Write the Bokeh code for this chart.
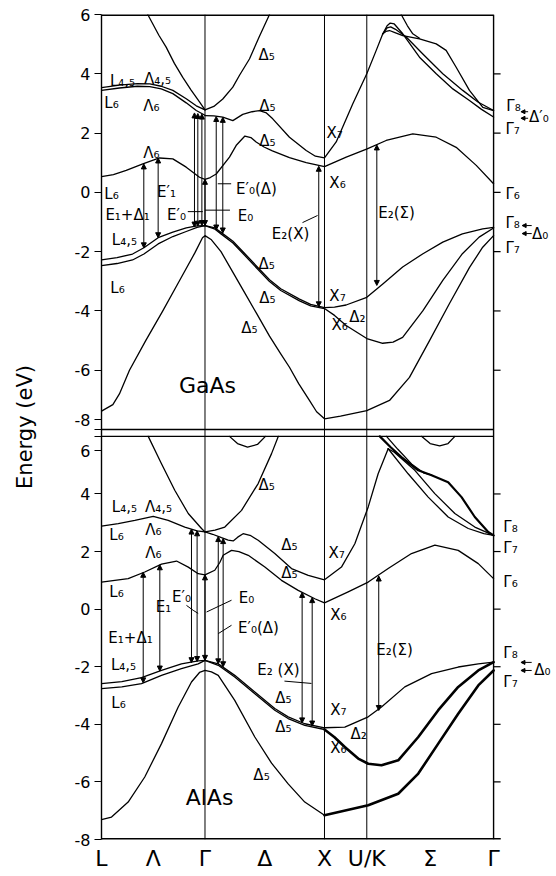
from bokeh.plotting import figure
from bokeh.models import (Range1d, FixedTicker, Span, Arrow, NormalHead, ColumnDataSource)
from bokeh.embed import file_html
from bokeh.resources import INLINE
from bokeh.core.properties import value

FONT = "DejaVu Sans"

# ---------------- k-path ----------------
K_G, K_X, K_UK, K_END = 0.866, 1.866, 2.220, 3.281
XTICKS = [0.0, 0.433, 0.866, 1.366, 1.866, 2.22, 2.751, 3.281]
XLABELS = ["L", "Λ", "Γ", "Δ", "X", "U/K", "Σ", "Γ"]
YTICKS = [-8, -6, -4, -2, 0, 2, 4, 6]

# ---------------- GaAs bands (k, E in eV) ----------------
GAAS_VB_LOW = [(0.0, -7.38), (0.095, -7.16), (0.15, -6.8), (0.234, -6.0), (0.37, -5.0),
               (0.513, -4.0), (0.65, -3.0), (0.78, -2.05), (0.845, -1.53), (0.866, -1.46),
               (0.92, -1.6), (1.0, -2.0), (1.1, -2.7), (1.2, -3.4), (1.3, -4.1), (1.406, -4.85),
               (1.5, -5.45), (1.573, -5.9), (1.65, -6.45), (1.74, -7.02), (1.8, -7.4),
               (1.866, -7.64), (2.0, -7.55), (2.22, -7.36), (2.41, -7.02), (2.577, -6.24),
               (2.745, -5.0), (2.912, -3.75), (3.08, -2.53), (3.19, -1.85), (3.281, -1.46)]
GAAS_VB_HH = [(0.0, -2.28), (0.13, -2.2), (0.26, -2.08), (0.355, -1.87), (0.474, -1.53),
              (0.597, -1.34), (0.709, -1.2), (0.8, -1.13), (0.866, -1.12), (0.95, -1.2),
              (1.0, -1.35), (1.1, -1.65), (1.2, -2.07), (1.3, -2.5), (1.406, -2.95),
              (1.5, -3.25), (1.657, -3.6), (1.75, -3.78), (1.866, -3.89), (1.95, -3.87),
              (2.047, -3.8), (2.22, -3.54), (2.354, -3.09), (2.52, -2.52), (2.69, -2.07),
              (2.856, -1.68), (3.02, -1.4), (3.19, -1.23), (3.281, -1.18)]
GAAS_VB_LH = [(0.0, -2.47), (0.13, -2.4), (0.26, -2.28), (0.355, -2.08), (0.474, -1.74),
              (0.597, -1.49), (0.709, -1.32), (0.8, -1.18), (0.866, -1.12), (0.95, -1.24),
              (1.0, -1.4), (1.1, -1.71), (1.2, -2.13), (1.3, -2.56), (1.406, -3.01),
              (1.5, -3.31), (1.657, -3.66), (1.75, -3.83), (1.866, -3.92), (1.95, -4.15),
              (2.047, -4.49), (2.22, -4.93), (2.353, -5.09), (2.44, -5.05), (2.52, -4.89),
              (2.69, -3.99), (2.856, -2.97), (3.02, -2.07), (3.16, -1.51), (3.281, -1.2)]
GAAS_CB1 = [(0.0, 0.53), (0.1, 0.6), (0.207, 0.74), (0.346, 0.96), (0.485, 1.16),
            (0.597, 1.13), (0.709, 0.85), (0.82, 0.51), (0.866, 0.44), (0.91, 0.5),
            (0.96, 0.62), (1.071, 1.19), (1.13, 1.6), (1.2, 1.9), (1.25, 1.85), (1.294, 1.7),
            (1.36, 1.53), (1.43, 1.4), (1.573, 1.17), (1.713, 1.0), (1.866, 0.87),
            (2.048, 1.19), (2.223, 1.47), (2.382, 1.75), (2.605, 1.97), (2.801, 1.86),
            (2.968, 1.52), (3.136, 0.91), (3.281, 0.29)]
GAAS_CB2 = [(0.866, 2.59), (0.94, 2.58), (1.015, 2.54), (1.099, 2.42), (1.182, 2.63),
            (1.26, 2.72), (1.322, 2.76), (1.38, 2.68), (1.433, 2.48), (1.573, 1.86),
            (1.713, 1.41), (1.79, 1.22), (1.866, 1.16), (1.964, 1.7), (2.103, 2.99),
            (2.22, 4.0), (2.299, 4.79), (2.354, 5.35)]
GAAS_SIG_A = [(2.354, 5.35), (2.39, 5.62), (2.416, 5.71), (2.45, 5.68), (2.521, 5.35),
              (2.661, 4.56), (2.801, 4.0), (2.94, 3.49), (3.079, 3.1), (3.18, 2.8), (3.281, 2.54)]
GAAS_SIG_B = [(2.354, 5.35), (2.39, 5.55), (2.42, 5.58), (2.46, 5.5), (2.55, 5.24),
              (2.689, 4.67), (2.856, 4.0), (3.023, 3.44), (3.15, 3.05), (3.281, 2.76)]
GAAS_SIG_C = [(2.354, 5.35), (2.38, 5.43), (2.41, 5.46), (2.45, 5.4), (2.521, 5.29),
              (2.661, 5.18), (2.801, 5.01), (2.884, 4.79), (2.968, 4.22), (3.079, 3.44),
              (3.191, 2.87), (3.281, 2.76)]
GAAS_SIG_D = [(2.508, 6.0), (2.56, 5.62), (2.605, 5.35), (2.661, 5.2)]
GAAS_PARAB = [(0.387, 6.0), (0.48, 5.3), (0.541, 4.9), (0.61, 4.35), (0.68, 3.88),
              (0.75, 3.45), (0.82, 3.05), (0.866, 2.78), (0.94, 2.9), (1.015, 3.15),
              (1.099, 3.55), (1.155, 3.95), (1.238, 4.5), (1.32, 5.25), (1.406, 6.0)]
GAAS_L45 = [(0.0, 3.53), (0.15, 3.62), (0.3, 3.67), (0.404, 3.66), (0.5, 3.58),
            (0.597, 3.44), (0.709, 3.16), (0.793, 2.92), (0.866, 2.78)]
GAAS_L6 = [(0.0, 3.44), (0.15, 3.52), (0.3, 3.58), (0.404, 3.57), (0.5, 3.49),
           (0.597, 3.33), (0.709, 3.02), (0.793, 2.76), (0.866, 2.6)]

# transitions: (k, E_low, E_high)
GAAS_TRANS = [(0.354, -1.87, 0.96), (0.474, -1.53, 1.16), (0.778, -1.17, 2.68),
              (0.806, -1.14, 2.66), (0.84, -1.12, 2.64), (0.866, -1.12, 0.44),
              (0.96, -1.27, 2.56), (1.015, -1.37, 2.53), (1.818, -3.86, 0.88),
              (2.304, -3.14, 1.6)]

# ---------------- AlAs bands ----------------
ALAS_VB_LOW = [(0.0, -7.31), (0.084, -7.22), (0.223, -6.7), (0.362, -5.83), (0.502, -4.67),
               (0.642, -3.4), (0.753, -2.53), (0.82, -2.2), (0.866, -2.13), (0.92, -2.18),
               (0.977, -2.3), (1.115, -3.17), (1.283, -4.44), (1.423, -5.35), (1.562, -6.07),
               (1.701, -6.7), (1.866, -7.16)]
ALAS_VB_LOW_SIG = [(1.866, -7.16), (2.232, -6.81), (2.483, -6.41), (2.651, -5.71),
                   (2.818, -4.67), (2.985, -3.63), (3.153, -2.65), (3.281, -2.13)]
ALAS_VB_HH = [(0.0, -2.59), (0.17, -2.52), (0.335, -2.38), (0.502, -2.13), (0.669, -1.9),
              (0.809, -1.8), (0.866, -1.78), (0.977, -1.9), (1.115, -2.3), (1.283, -2.88),
              (1.45, -3.45), (1.562, -3.74), (1.701, -3.98), (1.866, -4.12), (2.036, -4.1),
              (2.232, -3.74), (2.343, -3.4), (2.538, -2.7), (2.762, -2.24), (2.985, -2.01),
              (3.153, -1.9), (3.281, -1.84)]
ALAS_VB_LH = [(0.0, -2.76), (0.17, -2.7), (0.335, -2.59), (0.502, -2.3), (0.669, -2.07),
              (0.809, -1.9), (0.866, -1.78), (0.977, -1.95), (1.115, -2.36), (1.283, -2.94),
              (1.45, -3.51), (1.562, -3.8), (1.701, -4.04), (1.866, -4.18)]
ALAS_VB_LH_SIG = [(1.866, -4.18), (1.95, -4.45), (2.036, -4.79), (2.148, -5.19),
                  (2.232, -5.37), (2.343, -5.42), (2.483, -5.25), (2.651, -4.44),
                  (2.818, -3.51), (2.985, -2.7), (3.153, -2.13), (3.281, -1.84)]
ALAS_CB1 = [(0.0, 0.94), (0.223, 1.06), (0.362, 1.29), (0.502, 1.56), (0.628, 1.67),
            (0.726, 1.46), (0.809, 1.23), (0.866, 1.19), (0.948, 1.35), (0.99, 1.62),
            (1.018, 1.87), (1.088, 2.04), (1.15, 2.0), (1.228, 1.87), (1.367, 1.46),
            (1.506, 1.0), (1.646, 0.65), (1.785, 0.36), (1.866, 0.22), (2.064, 0.6),
            (2.232, 0.94), (2.399, 1.41), (2.594, 1.93), (2.79, 2.22), (2.985, 2.04),
            (3.153, 1.58), (3.281, 1.06)]
ALAS_CB2 = [(0.866, 2.68), (0.93, 2.6), (1.004, 2.48), (1.06, 2.4), (1.102, 2.37),
            (1.14, 2.5), (1.185, 2.62), (1.25, 2.55), (1.311, 2.39), (1.45, 1.93),
            (1.59, 1.41), (1.73, 1.17), (1.866, 1.02), (2.008, 1.46), (2.12, 2.27),
            (2.232, 3.55), (2.315, 4.7), (2.399, 5.57)]
ALAS_SIG_1 = [(2.399, 5.57), (2.566, 4.7), (2.734, 3.89), (2.901, 3.2), (3.069, 2.8),
              (3.2, 2.62), (3.281, 2.56)]
ALAS_SIG_2 = [(2.399, 5.57), (2.45, 5.45), (2.622, 4.82), (2.789, 4.01), (2.957, 3.32),
              (3.124, 2.85), (3.281, 2.56)]
ALAS_SIG_3 = [(2.329, 6.0), (2.42, 5.62), (2.51, 5.28), (2.65, 4.82), (2.762, 4.65),
              (2.901, 4.41), (3.013, 3.89), (3.124, 3.2), (3.236, 2.68), (3.281, 2.56)]
ALAS_SIG_4 = [(2.385, 6.0), (2.48, 5.55), (2.6, 5.02), (2.7, 4.72), (2.762, 4.66)]
ALAS_PARAB = [(0.391, 6.0), (0.502, 5.05), (0.613, 4.13), (0.726, 3.32), (0.837, 2.8),
              (0.866, 2.68), (0.95, 2.74), (1.032, 2.85), (1.172, 3.43), (1.311, 4.36),
              (1.423, 5.4), (1.48, 6.0)]
ALAS_LCB = [(0.0, 2.88), (0.14, 2.97), (0.279, 3.08), (0.433, 3.22), (0.558, 3.08),
            (0.697, 2.85), (0.8, 2.72), (0.866, 2.68)]
ALAS_TOP_D = [(1.071, 6.0), (1.138, 5.75), (1.222, 5.63), (1.305, 5.72), (1.372, 6.0)]
ALAS_TOP_S = [(2.678, 6.0), (2.75, 5.75), (2.83, 5.67), (2.9, 5.75), (2.957, 6.0)]

ALAS_TRANS = [(0.349, -2.56, 1.28), (0.488, -2.15, 1.54), (0.753, -1.86, 2.78),
              (0.8, -1.82, 2.72), (0.866, -1.78, 1.19), (0.977, -1.9, 2.52),
              (1.018, -2.0, 2.45), (1.679, -3.95, 0.58), (1.763, -4.06, 0.4),
              (2.32, -3.52, 1.15)]

# ---------------- annotations ----------------
GAAS_TEXT = [(1.381, 4.62, "Δ₅"), (1.389, 2.93, "Δ₅"), (1.389, 1.72, "Δ₅"),
             (0.176, 3.77, "L₄,₅"), (0.469, 3.84, "Λ₄,₅"), (0.084, 3.0, "L₆"),
             (0.418, 2.9, "Λ₆"), (0.418, 1.34, "Λ₆"), (0.084, -0.04, "L₆"),
             (0.544, 0.0, "E′₁"), (0.218, -0.75, "E₁+Δ₁"), (0.628, -0.75, "E′₀"),
             (1.206, -0.8, "E₀"), (1.297, 0.13, "E′₀(Δ)"), (1.95, 1.99, "X₇"),
             (1.975, 0.33, "X₆"), (1.582, -1.42, "E₂(X)"), (2.469, -0.68, "E₂(Σ)"),
             (1.381, -2.4, "Δ₅"), (1.389, -3.58, "Δ₅"), (1.238, -4.59, "Δ₅"),
             (0.192, -1.59, "L₄,₅"), (0.134, -3.24, "L₆"), (1.975, -3.48, "X₇"),
             (1.992, -4.49, "X₆"), (2.142, -4.22, "Δ₂"),
             (3.448, 2.9, "Γ₈"), (3.66, 2.55, "Δ′₀"), (3.44, 2.15, "Γ₇"),
             (3.44, -0.04, "Γ₆"), (3.44, -1.02, "Γ₈"), (3.67, -1.39, "Δ₀"),
             (3.44, -1.86, "Γ₇")]
ALAS_TEXT = [(1.381, 4.3, "Δ₅"), (0.192, 3.53, "L₄,₅"), (0.477, 3.53, "Λ₄,₅"),
             (0.126, 2.56, "L₆"), (0.435, 2.74, "Λ₆"), (0.435, 1.94, "Λ₆"),
             (1.573, 2.22, "Δ₅"), (1.573, 1.24, "Δ₅"), (1.967, 1.94, "X₇"),
             (1.983, -0.22, "X₆"), (0.126, 0.58, "L₆"), (0.669, 0.41, "E′₀"),
             (0.519, 0.06, "E₁"), (1.213, 0.37, "E₀"), (1.314, -0.67, "E′₀(Δ)"),
             (0.243, -1.01, "E₁+Δ₁"), (0.184, -1.95, "L₄,₅"), (0.142, -3.27, "L₆"),
             (1.481, -2.13, "E₂ (X)"), (1.523, -3.1, "Δ₅"), (1.523, -4.1, "Δ₅"),
             (1.339, -5.77, "Δ₅"), (1.983, -3.51, "X₇"), (1.983, -4.83, "X₆"),
             (2.151, -4.35, "Δ₂"), (2.452, -1.43, "E₂(Σ)"),
             (3.423, 2.84, "Γ₈"), (3.423, 2.11, "Γ₇"), (3.423, 0.93, "Γ₆"),
             (3.423, -1.53, "Γ₈"), (3.423, -2.54, "Γ₇"), (3.69, -2.13, "Δ₀")]
GAAS_LEADERS = [(0.722, -0.65, 0.848, -0.65), (0.866, -0.6, 1.075, -0.6),
                (0.973, 0.29, 1.085, 0.29), (1.682, -1.02, 1.808, -0.78)]
ALAS_LEADERS = [(0.711, 0.13, 0.767, -0.04), (0.767, -0.04, 0.809, -0.15),
                (0.879, -0.1, 1.088, 0.31), (0.977, -0.85, 1.088, -0.56),
                (1.531, -2.5, 1.757, -2.58)]
GAAS_RIGHT_ARROWS = [(3.57, 2.72, 3.51, 2.72), (3.57, 2.5, 3.51, 2.5),
                     (3.6, -1.12, 3.52, -1.12), (3.6, -1.39, 3.52, -1.39)]
ALAS_RIGHT_ARROWS = [(3.6, -1.85, 3.51, -1.85), (3.6, -2.13, 3.51, -2.13)]

# ---------------- geometry of the two stacked panels ----------------
PX_PER_K = 119.5
FRAME_W = 455
TOP_RANGE = (-21.83, 6.0)     # GaAs panel occupies the upper part of the frame
AL_RANGE = (-8.0, 20.65)      # AlAs panel occupies the lower part of the frame
TICK_K = 7.0 / PX_PER_K


def al_to_top(e):
    s = (TOP_RANGE[1] - TOP_RANGE[0]) / (AL_RANGE[1] - AL_RANGE[0])
    return round(TOP_RANGE[0] + (e - AL_RANGE[0]) * s, 4)


p = figure(width=556, height=876, x_range=Range1d(0, FRAME_W / PX_PER_K),
           y_range=Range1d(*TOP_RANGE), output_backend="svg", toolbar_location=None,
           min_border_left=101, min_border_right=0, min_border_top=14, min_border_bottom=37)
p.extra_y_ranges = {"al": Range1d(*AL_RANGE)}
p.grid.visible = False
p.outline_line_color = None
p.background_fill_color = "white"

# left axis: ticks of both panels (AlAs ticks mapped into the shared frame)
top_ticks = [float(t) for t in YTICKS]
al_ticks = [al_to_top(t) for t in YTICKS]
moved_m8 = round(6.0 - (419 - 14) / 29.64, 4)   # "-8" label of GaAs shifted up
moved_6 = round(6.0 - (450 - 14) / 29.64, 4)    # "6" label of AlAs shifted down
ticks = top_ticks + al_ticks + [moved_m8, moved_6]
over = {}
for t in YTICKS:
    over[float(t)] = "" if t == -8 else str(t)
for t, a in zip(YTICKS, al_ticks):
    over[a] = "" if t == 6 else str(t)
over[moved_m8] = "-8"
over[moved_6] = "6"
ya = p.yaxis[0]
ya.ticker = FixedTicker(ticks=ticks)
ya.major_label_overrides = over
ya.major_tick_out = 7
ya.major_tick_in = 0
ya.major_tick_line_width = 1.2
ya.minor_tick_line_color = None
ya.axis_line_color = "black"
ya.axis_line_width = 1.4
ya.major_label_text_font = FONT
ya.major_label_text_font_size = "16px"
ya.major_label_text_color = "black"
ya.major_label_standoff = 4
ya.axis_label = "Energy (eV)"
ya.axis_label_text_font = FONT
ya.axis_label_text_font_style = "normal"
ya.axis_label_text_font_size = "21px"
ya.axis_label_text_color = "black"
ya.axis_label_standoff = 35

xa = p.xaxis[0]
xa.ticker = FixedTicker(ticks=XTICKS)
xa.major_label_overrides = {t: s for t, s in zip(XTICKS, XLABELS)}
xa.major_tick_out = 0
xa.major_tick_in = 0
xa.minor_tick_line_color = None
xa.axis_line_color = None
xa.major_label_text_font = FONT
xa.major_label_text_font_size = "22px"
xa.major_label_text_color = "black"
xa.major_label_standoff = 6

# frame lines
for kk in (K_G, K_X, K_UK, K_END):
    p.add_layout(Span(location=kk, dimension="height", line_color="black",
                      line_width=1.4 if kk == K_END else 1))
p.line([0, K_END], [6, 6], line_color="black", line_width=2.8)
p.line([0, K_END], [-8, -8], line_color="black", line_width=1.4)
p.line([0, K_END], [6, 6], line_color="black", line_width=1.4, y_range_name="al")
p.line([0, K_END + 0.06], [-8, -8], line_color="black", line_width=2.8, y_range_name="al")
# right-hand tick marks
rt = [t for t in YTICKS if -8 < t < 6]
p.segment(x0=[K_END] * len(rt), y0=rt, x1=[K_END + TICK_K] * len(rt), y1=rt,
          line_color="black", line_width=1.2)
p.segment(x0=[K_END] * len(rt), y0=rt, x1=[K_END + TICK_K] * len(rt), y1=rt,
          line_color="black", line_width=1.2, y_range_name="al")


def draw_band(pts, w=1.3, rn="default"):
    p.line([a for a, _ in pts], [b for _, b in pts], line_color="black",
           line_width=w, line_join="round", line_cap="round", y_range_name=rn)


def add_texts(items, size="15px", rn="default"):
    src = ColumnDataSource(dict(x=[a for a, _, _ in items], y=[b for _, b, _ in items],
                                t=[c for _, _, c in items]))
    p.text(x="x", y="y", text="t", source=src, text_font=value(FONT),
           text_font_size=value(size), text_align="center", text_baseline="middle",
           text_color="black", y_range_name=rn)


def add_arrows(rows, both=True, size=5, rn="default"):
    src = ColumnDataSource(dict(x0=[r[0] for r in rows], y0=[r[1] for r in rows],
                                x1=[r[2] for r in rows], y1=[r[3] for r in rows]))
    head = lambda: NormalHead(size=size, fill_color="black", line_color="black", line_width=1)
    p.add_layout(Arrow(start=head() if both else None, end=head(),
                       x_start="x0", y_start="y0", x_end="x1", y_end="y1", source=src,
                       line_width=1, line_color="black", y_range_name=rn))


def add_leaders(segs, rn="default"):
    p.segment(x0=[s[0] for s in segs], y0=[s[1] for s in segs],
              x1=[s[2] for s in segs], y1=[s[3] for s in segs],
              line_color="black", line_width=1, y_range_name=rn)


# ---------------- GaAs ----------------
for b in (GAAS_VB_LOW, GAAS_VB_HH, GAAS_VB_LH, GAAS_CB1, GAAS_CB2, GAAS_SIG_A,
          GAAS_SIG_B, GAAS_SIG_C, GAAS_SIG_D, GAAS_PARAB, GAAS_L45, GAAS_L6):
    draw_band(b)
add_arrows([(k, lo, k, hi) for k, lo, hi in GAAS_TRANS])
add_arrows(GAAS_RIGHT_ARROWS, both=False, size=4)
add_leaders(GAAS_LEADERS)
add_texts(GAAS_TEXT)
add_texts([(0.887, -6.52, "GaAs")], size="22px")

# ---------------- AlAs ----------------
for b in (ALAS_VB_LOW, ALAS_VB_HH, ALAS_VB_LH, ALAS_CB1, ALAS_CB2, ALAS_SIG_1,
          ALAS_SIG_2, ALAS_SIG_4, ALAS_PARAB, ALAS_LCB, ALAS_TOP_D, ALAS_TOP_S):
    draw_band(b, rn="al")
draw_band(ALAS_VB_LOW_SIG, 2.6, rn="al")
draw_band(ALAS_VB_LH_SIG, 2.6, rn="al")
draw_band(ALAS_SIG_3, 2.2, rn="al")
add_arrows([(k, lo, k, hi) for k, lo, hi in ALAS_TRANS], rn="al")
add_arrows(ALAS_RIGHT_ARROWS, both=False, size=4, rn="al")
add_leaders(ALAS_LEADERS, rn="al")
add_texts(ALAS_TEXT, rn="al")
add_texts([(0.904, -6.53, "AlAs")], size="22px", rn="al")

open("out.html", "w").write(file_html(p, INLINE))
